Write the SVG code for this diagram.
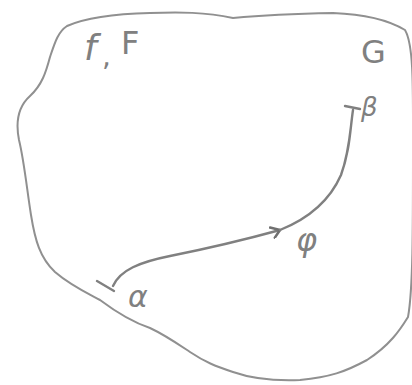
<svg xmlns="http://www.w3.org/2000/svg" width="412" height="385" viewBox="0 0 412 385">
<style>
.ink{fill:none;stroke:#909090;stroke-width:2;stroke-linecap:round;stroke-linejoin:round}
.edge{fill:none;stroke:#808080;stroke-width:2.4;stroke-linecap:round;stroke-linejoin:round}
.lbl{font-family:"DejaVu Sans",sans-serif;fill:#808080}
</style>
<defs>
<marker id="arr" markerWidth="14" markerHeight="14" refX="10" refY="7" orient="auto" markerUnits="userSpaceOnUse">
<path d="M1,2 L10,7 L3,13" fill="none" stroke="#707070" stroke-width="2.6" stroke-linecap="round" stroke-linejoin="round"/>
</marker>
</defs>
<rect width="412" height="385" fill="#ffffff"/>
<g id="region">
<path class="ink" d="M67,26 C85,18 110,14 150,13 C180,12 205,12 233,18 C255,16 285,14 333,13 C360,14 385,18 405,30 C414,45 413,90 413,150 C413,230 413,290 408,317 C400,330 390,345 367,360 C345,372 330,377 300,380 C275,381 250,378 233,372 C215,366 205,362 190,352 C175,342 165,335 150,328 C135,323 120,315 100,300 C85,292 70,285 55,272 C40,258 35,240 31,215 C27,190 24,160 19,140 C15,120 20,105 30,96 C42,85 46,72 50,57 C55,42 58,32 67,26 Z"/>
<text class="lbl" x="84" y="60" font-size="36" font-style="italic">f</text>
<text class="lbl" x="102" y="66" font-size="28">,</text>
<text class="lbl" x="121" y="54" font-size="32">F</text>
<text class="lbl" x="361" y="63" font-size="32">G</text>
</g>
<g id="connectors">
<path class="edge" d="M113,286 C120,270 140,262 170,256 C200,250 240,241 280,230" marker-end="url(#arr)"/>
<path class="edge" d="M280,230 C310,218 330,200 341,175 C350,150 350,130 353,110"/>
<path class="edge" d="M97,281 L114,291"/>
<path class="edge" d="M345,106 L360,109"/>
</g>
<g id="node-alpha">
<text class="lbl" x="128" y="307" font-size="30" font-style="italic">α</text>
</g>
<g id="node-beta">
<text class="lbl" x="361" y="116" font-size="26" font-style="italic">β</text>
</g>
<g id="node-phi">
<text class="lbl" x="296" y="251" font-size="32" font-style="italic">φ</text>
</g>
</svg>
